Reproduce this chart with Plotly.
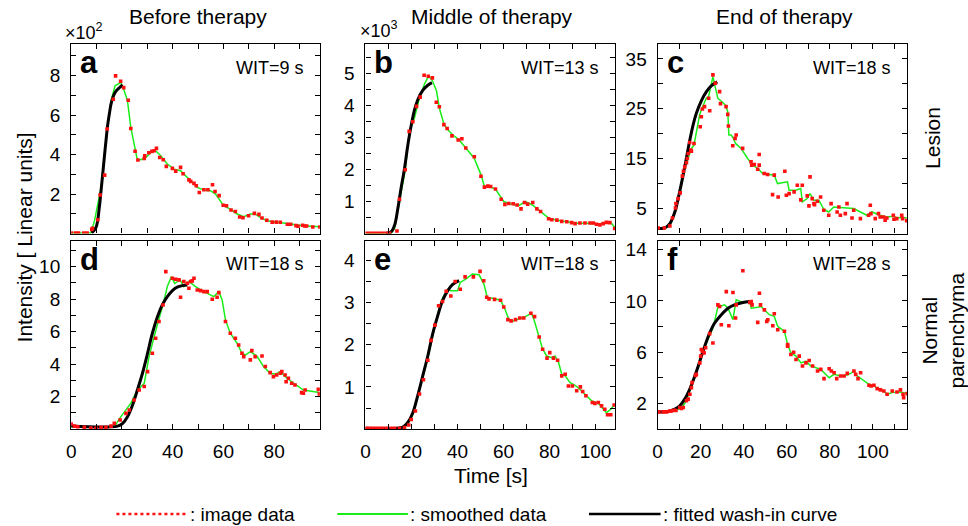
import plotly.graph_objects as go

# ---------------- data (time in s, intensity) ----------------
# a: before therapy, lesion (x10^2)
a_t = [0,1.7,2.9,5.0,6.3,8.1,8.4,10.5,11.4,13.2,14.2,16.6,17.5,19.5,20.7,22.5,23.5,25.2,26.3,28.8,29.0,30.6,31.8,32.7,33.6,34.9,36.3,37.5,39.9,41.2,43.1,44.1,46.4,47.1,48.4,49.3,50.5,52.3,53.9,55.7,56.7,58.3,59.9,61.2,63.0,64.7,66.4,67.7,69.9,72.2,74.0,75.2,77.1,79.2,80.8,82.4,85.2,86.5,88.6,89.4,91.2,92.0,92.8,95.2,98.0]
a_v = [0.03,0.03,0.03,0.03,0.03,0.21,0.27,0.70,1.95,2.96,5.29,6.80,7.98,7.71,7.39,6.75,5.32,4.17,3.72,3.80,3.94,4.09,4.16,4.19,4.31,3.85,3.74,3.40,3.30,3.16,3.35,3.03,2.72,2.64,2.54,2.42,2.08,2.22,2.22,2.47,2.13,1.92,1.43,1.41,1.19,1.12,0.84,0.80,0.90,1.02,0.97,0.79,0.67,0.58,0.58,0.57,0.47,0.47,0.40,0.37,0.42,0.38,0.38,0.33,0.33]
a_st = [0,7.8,9.2,11.8,13.7,15.7,17.3,19.6,20.9,22.2,23.5,25.1,26.1,28.8,31.4,33.3,35.3,37.9,40.5,43.1,45.1,47.1,49.7,52.3,54.9,56.9,58.8,60.1,62.7,65.4,68.0,70.6,72.5,74.5,77.1,79.7,83.7,87.6,91.5,98.0]
a_sv = [0.03,0.03,0.65,2.34,4.70,6.72,7.48,7.65,7.23,6.72,5.37,4.36,3.72,3.77,4.11,4.19,3.94,3.52,3.26,3.18,2.93,2.67,2.34,2.20,2.17,2.00,1.66,1.41,1.24,0.99,0.85,0.99,0.99,0.82,0.65,0.60,0.53,0.45,0.40,0.35]
a_ft = [8.1,9.8,11.1,11.8,12.5,13.1,13.8,14.4,15.1,15.7,16.6,17.6,19.0,20.3]
a_fv = [0.03,0.31,1.33,2.2,3.1,3.9,4.8,5.5,6.1,6.55,6.95,7.2,7.38,7.52]

# b: middle of therapy, lesion (x10^3)
b_t = [0.4,1.9,3.3,4.7,6.2,7.6,9.1,10.5,13.7,14.8,17.3,19.0,20.6,22.2,23.8,25.5,27.3,29.1,30.8,32.1,34.1,35.5,37.6,40.3,41.9,43.6,47.3,50.2,51.7,53.2,54.4,56.5,59.0,60.6,62.3,64.2,65.9,67.6,69.1,70.5,72.7,74.5,76.1,79.6,81.0,83.2,85.3,87.5,89.6,91.1,93.2,95.4,97.6,99.0,100.4,101.9,103.3,104.7,106.2,108.3]
b_v = [0.01,0.01,0.01,0.01,0.01,0.01,0.01,0.01,0.08,1.07,1.99,3.19,3.49,3.97,4.26,4.94,4.91,4.86,4.10,3.96,3.40,3.28,3.05,2.92,2.96,2.67,2.40,1.79,1.45,1.48,1.47,1.39,1.07,0.91,0.94,0.93,0.89,0.77,0.97,0.92,0.97,0.77,0.69,0.46,0.43,0.42,0.38,0.37,0.34,0.31,0.33,0.33,0.33,0.33,0.29,0.27,0.31,0.35,0.34,0.16]
b_st = [0,11.2,12.7,14.8,17.3,19.1,21.3,23.5,25.6,27.5,29.2,30.9,32.1,34.2,36.4,38.6,40.7,43.6,47.2,50.2,51.7,53.7,56.5,60.1,62.3,66.6,69.5,72.4,75.3,79.6,82.4,86.8,91.1,96.8,101.2,104.0,106.9,108.3]
b_sv = [0.01,0.01,0.16,1.05,1.99,3.19,3.61,4.24,4.66,4.92,4.76,4.45,3.92,3.40,3.19,3.04,2.93,2.67,2.36,1.84,1.47,1.47,1.39,1.00,0.94,0.87,1.00,0.90,0.74,0.48,0.43,0.37,0.32,0.32,0.29,0.34,0.32,0.19]
b_ft = [9.1,11.2,12.7,14.1,15.5,17.0,18.4,19.9,21.3,22.7,24.9,27.1,28.9]
b_fv = [0.01,0.06,0.27,0.79,1.42,2.04,2.75,3.38,3.85,4.17,4.47,4.63,4.71]

# c: end of therapy, lesion
c_t = [0.3,3.1,5.7,6.9,8.3,8.5,9.5,10.5,11.5,12.0,12.6,13.4,13.8,14.2,14.9,15.4,15.7,16.9,19.8,20.3,20.8,21.8,23.7,24.2,25.7,26.8,28.8,29.2,31.8,32.6,32.9,34.9,36.0,36.5,39.5,43.4,43.7,44.9,46.5,47.2,47.2,49.5,51.1,53.4,54.2,56.0,59.1,59.8,61.1,63.4,64.9,66.5,67.2,69.5,70.3,70.8,71.8,72.6,72.9,74.2,75.7,77.2,79.5,80.6,83.4,84.2,84.9,87.2,88.0,90.3,91.1,94.2,98.0,98.8,99.1,101.1,102.6,103.4,104.9,105.7,106.5,109.5,109.8,111.1,113.4,113.8,115.7]
c_v = [1.12,1.12,1.52,3.12,5.13,6.0,7.0,8.15,11.5,12.5,13.37,14.18,15.05,16.05,18.26,16.72,16.52,18.06,21.41,23.42,24.96,25.43,27.10,24.62,31.79,30.11,28.44,26.03,25.43,23.89,21.54,17.59,19.07,19.74,17.06,14.38,13.71,13.84,12.90,15.85,13.71,12.03,11.83,7.81,11.70,7.34,12.50,7.68,8.01,8.35,9.69,6.74,9.69,7.55,5.54,11.36,7.01,6.0,5.80,6.47,7.34,4.67,3.66,6.0,4.33,5.33,3.66,4.0,6.0,3.12,4.67,2.99,3.66,5.67,4.0,2.99,4.0,3.33,3.33,2.66,3.12,3.66,2.86,2.99,3.66,2.99,2.59]
c_st = [0,4.9,6.5,8.8,10.3,12.6,14.2,15.7,16.9,18.5,19.5,20.6,22.6,23.7,24.9,25.7,26.9,28.0,29.5,31.4,32.6,33.1,34.2,35.2,36.2,38.8,41.8,42.9,44.2,46.5,48.8,54.2,55.7,60.3,61.1,64.2,66.5,67.2,69.5,70.8,72.6,74.9,77.2,79.5,81.8,91.1,97.2,99.5,103.4,106.5,109.5,111.1,115.7]
c_sv = [1.12,1.32,2.32,6.34,8.35,13.04,15.05,17.06,17.73,21.74,23.75,25.09,27.10,27.44,29.78,31.46,29.11,27.10,26.57,25.76,24.42,19.74,19.74,19.07,18.06,17.06,15.05,14.38,13.71,13.04,12.03,11.70,10.02,10.36,8.68,8.68,9.02,6.34,7.01,8.01,6.67,6.67,4.87,4.33,5.33,5.0,3.66,4.33,3.66,3.33,3.46,3.19,3.19]
c_ft = [0,3.4,5.7,8.0,9.8,11.8,13.4,14.9,16.5,18.0,20.3,22.6,24.9,27.7]
c_fv = [1.0,1.15,2.0,4.3,7.5,11.6,15.2,18.6,21.8,24.1,26.6,28.4,29.6,30.4]

# d: before therapy, normal parenchyma
d_t = [0,1.3,2.6,5.2,7.8,9.8,11.8,13.7,15.7,17.0,19.3,21.6,22.9,24.8,26.8,28.8,30.1,32.0,33.3,34.6,36.2,37.3,39.9,41.2,42.5,43.1,44.4,45.8,46.4,47.1,47.7,48.4,49.7,51.0,52.3,53.6,55.6,57.5,58.2,60.8,62.7,64.7,66.0,67.3,68.0,70.6,71.2,72.5,75.2,76.5,78.4,79.7,81.0,82.4,83.0,84.3,84.7,85.6,86.9,88.2,90.8,91.5,92.2,97.4,97.8]
d_v = [0.32,0.19,0.15,0.11,0.07,0.05,0.11,0.11,0.19,0.36,0.56,0.97,1.18,1.79,2.41,2.62,3.54,4.67,5.59,6.62,7.64,9.69,9.28,9.22,9.18,8.11,9.08,8.97,8.67,9.08,9.12,9.28,8.56,8.52,8.46,8.46,7.99,8.11,8.40,6.62,5.90,5.59,5.18,4.67,4.46,4.26,4.83,4.46,4.50,3.85,3.48,3.23,3.33,3.44,3.54,3.33,2.92,3.13,2.82,2.72,2.25,2.21,2.41,2.45,2.16]
d_st = [0,17.0,19.6,21.6,23.5,25.5,26.8,28.8,30.7,32.7,34.6,36.3,37.9,39.5,40.8,42.9,44.4,46.4,49.0,52.3,56.2,58.2,59.5,60.8,62.7,65.4,67.3,68.6,70.6,73.2,75.8,78.4,80.4,82.4,85.0,87.6,91.5,97.8]
d_sv = [0.15,0.15,0.77,1.18,1.59,2.21,2.51,2.82,4.46,5.69,6.72,7.74,8.77,9.38,8.97,9.18,8.77,9.08,8.77,8.46,8.15,8.46,7.95,6.72,5.90,5.28,4.67,4.56,4.77,4.50,3.85,3.44,3.39,3.54,3.13,2.82,2.41,2.25]
d_ft = [0,18.3,20.3,22.2,24.2,26.1,28.1,30.1,32.0,34.0,35.9,37.9,39.9,41.8,43.8,45.8]
d_fv = [0.19,0.19,0.36,0.77,1.49,2.41,3.44,4.67,5.90,6.92,7.64,8.15,8.52,8.73,8.83,8.87]

# e: middle of therapy, normal parenchyma
e_t = [0.4,1.9,3.3,4.7,6.2,7.6,9.1,11.2,12.7,14.8,17.0,18.8,19.9,21.7,23.5,25.2,27.1,28.5,30.2,31.8,33.5,35.1,37.1,39.0,41.2,43.3,46.9,49.8,51.4,52.7,53.7,56.1,58.7,60.1,61.9,63.3,65.2,67.1,68.8,71.9,73.5,75.5,77.0,78.9,80.1,81.7,83.5,85.3,86.8,88.2,89.9,91.8,93.4,94.4,95.8,98.6,99.7,101.2,102.6,104.0,105.2,106.6,108.1]
e_v = [0.02,0.02,0.02,0.02,0.02,0.02,0.02,0.02,0.02,0.02,0.04,0.10,0.23,0.43,0.83,1.17,1.63,2.10,2.46,2.92,3.02,3.26,3.15,3.49,3.31,3.60,3.60,3.73,3.51,3.12,3.08,3.07,3.05,2.89,2.59,2.56,2.59,2.63,2.63,2.74,2.66,2.18,1.89,1.68,1.81,1.68,1.63,1.26,1.30,1.02,1.02,0.91,1.0,0.89,0.79,0.63,0.61,0.63,0.55,0.47,0.34,0.34,0.57]
e_st = [0,14.8,17.0,18.8,20.6,22.7,24.9,27.1,29.2,31.4,33.5,35.7,37.1,38.6,40.0,41.2,43.6,46.5,49.4,51.5,52.9,56.5,58.7,60.6,62.3,63.7,66.6,69.5,72.1,73.2,75.3,77.0,78.8,81.0,82.4,83.9,85.3,86.8,88.9,90.4,92.5,95.4,98.3,101.2,104.7,106.6,108.1]
e_sv = [0.02,0.02,0.05,0.16,0.35,0.75,1.22,1.69,2.21,2.72,3.10,3.31,3.27,3.27,3.27,3.47,3.55,3.67,3.65,3.43,3.12,3.08,3.05,2.84,2.60,2.55,2.60,2.66,2.74,2.60,2.21,1.89,1.73,1.69,1.73,1.58,1.30,1.26,1.10,1.06,0.98,0.83,0.67,0.61,0.39,0.47,0.57]
e_ft = [0,13.4,16.3,18.4,20.6,22.7,24.9,27.1,29.2,31.4,33.5,35.7,37.8,40.7]
e_fv = [0.02,0.02,0.05,0.16,0.39,0.79,1.26,1.73,2.25,2.68,3.04,3.27,3.42,3.51]

# f: end of therapy, normal parenchyma
f_t = [0.6,2.6,4.2,5.7,6.5,7.7,8.5,10.3,11.1,11.9,13.4,14.2,15.0,15.7,16.0,17.6,18.0,19.6,20.0,20.3,20.8,21.6,22.3,24.2,25.7,28.0,28.8,29.6,31.9,33.1,35.0,36.2,36.5,39.6,42.8,43.5,43.9,46.5,47.3,47.8,49.6,50.7,51.2,53.5,54.2,55.8,58.9,60.4,60.4,61.9,63.2,64.3,65.8,67.3,68.9,70.4,72.0,74.3,75.8,77.3,79.7,80.7,82.0,83.2,85.0,86.6,88.1,91.2,92.0,93.1,94.3,98.2,99.2,100.5,102.0,103.5,105.1,106.6,109.0,111.2,112.8,114.0,114.3,115.9]
f_v = [1.35,1.35,1.35,1.41,1.43,1.48,1.46,1.69,1.61,1.69,2.21,2.34,2.72,3.24,3.63,4.19,4.27,5.17,5.69,6.21,6.08,5.95,6.34,7.45,6.72,9.69,9.56,8.14,10.72,8.06,10.65,8.66,9.69,12.35,9.87,9.95,9.69,8.32,10.59,9.69,9.30,8.40,8.53,8.06,8.99,7.75,7.63,6.59,6.46,5.82,6.0,5.43,5.69,4.92,5.17,5.35,4.92,4.53,4.66,3.94,4.71,4.53,4.40,3.94,4.14,4.14,4.35,4.53,4.27,3.94,4.40,3.42,3.37,3.42,3.16,3.06,2.98,2.72,2.98,2.90,3.06,2.72,2.46,2.77]
f_st = [0,8.0,11.1,13.4,15.7,18.0,20.3,22.6,25.7,28.0,31.1,32.7,35.0,36.5,38.1,39.6,42.7,43.5,46.5,48.1,50.4,51.9,54.2,55.8,58.9,60.4,61.9,64.3,66.6,68.9,71.2,73.5,75.8,79.7,82.0,85.1,87.4,89.7,91.2,92.8,95.8,98.2,100.5,102.8,105.1,106.6,109.0,112.0,114.3,115.9]
f_sv = [1.35,1.41,1.66,2.21,3.37,4.40,5.82,6.72,7.88,9.51,9.69,9.43,8.53,10.08,9.95,9.87,9.95,9.43,9.51,9.56,9.17,8.92,8.79,8.01,7.63,6.59,5.95,5.69,5.17,5.30,4.92,4.79,4.66,4.01,4.27,4.14,4.19,4.35,4.53,4.14,3.75,3.50,3.37,3.11,2.98,2.72,2.85,2.90,2.85,2.77]
f_ft = [0,4.9,8.0,10.3,12.6,14.9,17.3,19.6,21.9,24.2,26.5,29.6,32.7,35.7,39.6,42.7]
f_fv = [1.35,1.38,1.56,1.82,2.34,3.11,4.14,5.30,6.46,7.50,8.27,8.92,9.43,9.69,9.87,9.95]

panel_letters = ["a", "b", "c", "d", "e", "f"]
wit_labels = ["WIT=9 s", "WIT=13 s", "WIT=18 s", "WIT=18 s", "WIT=18 s", "WIT=28 s"]
col_titles = ["Before therapy", "Middle of therapy", "End of therapy"]
row_titles = ["Lesion", "Normal<br>parenchyma"]
legend_labels = [": image data", ": smoothed data", ": fitted wash-in curve"]

x_ranges = [[0, 98], [0, 108.5], [0, 116]]
y_ranges = [[0, 9.6], [0, 5.92], [0, 38], [0, 11.6], [0, 4.46], [0, 14.7]]
y_ticks = [[2, 4, 6, 8], [1, 2, 3, 4, 5], [5, 15, 25, 35], [2, 4, 6, 8, 10], [1, 2, 3, 4], [2, 6, 10, 14]]
y_minor = [1, 0.5, 5, 1, 0.5, 2]
x_ticks = [0, 20, 40, 60, 80, 100]

panels = [(a_t, a_v, a_st, a_sv, a_ft, a_fv), (b_t, b_v, b_st, b_sv, b_ft, b_fv),
          (c_t, c_v, c_st, c_sv, c_ft, c_fv), (d_t, d_v, d_st, d_sv, d_ft, d_fv),
          (e_t, e_v, e_st, e_sv, e_ft, e_fv), (f_t, f_v, f_st, f_sv, f_ft, f_fv)]

# ---------------- layout geometry (pixels) ----------------
W, H = 968, 526
col_px = [(66.5, 316.5), (362.3, 613.3), (656, 907)]
row_px = [(43, 233), (240, 429)]
FONT = "Liberation Sans, Arial, sans-serif"
GREEN = "#19ee19"
TICK_SIZE = 19

fig = go.Figure()
layout = dict(width=W, height=H, margin=dict(l=0, r=0, t=0, b=0), autosize=False,
              plot_bgcolor="white", paper_bgcolor="white", showlegend=False,
              font=dict(family=FONT, size=TICK_SIZE, color="black"))
annotations = []
shapes = []

def px2x(p):
    return p / W

def px2y(p):
    return 1 - p / H

for i, (t, v, st, sv, ft, fv) in enumerate(panels):
    r, c = divmod(i, 3)
    n = i + 1
    xa = "x" if n == 1 else f"x{n}"
    ya = "y" if n == 1 else f"y{n}"
    fig.add_trace(go.Scatter(x=st, y=sv, mode="lines", line=dict(color=GREEN, width=1.5),
                             xaxis=xa, yaxis=ya, hoverinfo="skip"))
    fig.add_trace(go.Scatter(x=ft, y=fv, mode="lines", line=dict(color="black", width=3, shape="spline"),
                             xaxis=xa, yaxis=ya, hoverinfo="skip"))
    fig.add_trace(go.Scatter(x=t, y=v, mode="markers", marker=dict(color="#ff1010", size=3.6, symbol="square"),
                             xaxis=xa, yaxis=ya, hoverinfo="skip"))
    common = dict(showline=True, linecolor="black", linewidth=1.2, mirror="allticks",
                  ticks="inside", ticklen=5, tickwidth=1, tickcolor="black",
                  showgrid=False, zeroline=False, tickfont=dict(size=TICK_SIZE, family=FONT))
    xkey = "xaxis" if n == 1 else f"xaxis{n}"
    ykey = "yaxis" if n == 1 else f"yaxis{n}"
    layout[xkey] = dict(common, domain=[px2x(col_px[c][0]), px2x(col_px[c][1])],
                        range=x_ranges[c], anchor=ya, tickmode="array", tickvals=x_ticks,
                        showticklabels=(r == 1), ticklabelstandoff=5,
                        minor=dict(ticks="inside", ticklen=5, tickcolor="black", tickmode="linear",
                                   tick0=0, dtick=10, showgrid=False))
    layout[ykey] = dict(common, domain=[px2y(row_px[r][1]), px2y(row_px[r][0])],
                        range=y_ranges[i], anchor=xa, tickmode="array", tickvals=y_ticks[i],
                        ticklabelstandoff=6,
                        minor=dict(ticks="inside", ticklen=5, tickcolor="black", tickmode="linear",
                                   tick0=0, dtick=y_minor[i], showgrid=False))
    # panel letter and WIT label
    annotations.append(dict(text=f"<b>{panel_letters[i]}</b>", xref="paper", yref="paper",
                            x=px2x(col_px[c][0] + 7), y=px2y(row_px[r][0] + 19),
                            xanchor="left", yanchor="middle", showarrow=False,
                            font=dict(size=31, family=FONT)))
    annotations.append(dict(text=wit_labels[i], xref="paper", yref="paper",
                            x=px2x(col_px[c][1] - 14), y=px2y(row_px[r][0] + 24),
                            xanchor="right", yanchor="middle", showarrow=False,
                            font=dict(size=18, family=FONT)))

# column titles
for c, title in enumerate(col_titles):
    annotations.append(dict(text=title, xref="paper", yref="paper",
                            x=px2x((col_px[c][0] + col_px[c][1]) / 2 + 2), y=px2y(16),
                            xanchor="center", yanchor="middle", showarrow=False,
                            font=dict(size=21, family=FONT)))
# multipliers
annotations.append(dict(text="×10<sup>2</sup>", xref="paper", yref="paper", x=px2x(58), y=px2y(31),
                        xanchor="left", yanchor="middle", showarrow=False, font=dict(size=18, family=FONT)))
annotations.append(dict(text="×10<sup>3</sup>", xref="paper", yref="paper", x=px2x(355), y=px2y(29),
                        xanchor="left", yanchor="middle", showarrow=False, font=dict(size=18, family=FONT)))
# row titles
annotations.append(dict(text=row_titles[0], xref="paper", yref="paper", x=px2x(933), y=px2y(137),
                        xanchor="center", yanchor="middle", showarrow=False, textangle=-90,
                        font=dict(size=21, family=FONT)))
annotations.append(dict(text=row_titles[1], xref="paper", yref="paper", x=px2x(943), y=px2y(330),
                        xanchor="center", yanchor="middle", showarrow=False, textangle=-90,
                        font=dict(size=21, family=FONT)))
# axis titles
annotations.append(dict(text="Intensity [ Linear units]", xref="paper", yref="paper", x=px2x(20), y=px2y(237),
                        xanchor="center", yanchor="middle", showarrow=False, textangle=-90,
                        font=dict(size=21, family=FONT)))
annotations.append(dict(text="Time [s]", xref="paper", yref="paper", x=px2x(489), y=px2y(475),
                        xanchor="center", yanchor="middle", showarrow=False,
                        font=dict(size=21, family=FONT)))

# legend (key samples + labels)
leg_y = px2y(514)
leg_keys = [(112, 184, "#ff1010", 2.5, "dot"), (334, 405, GREEN, 2, "solid"), (587, 659, "black", 2.5, "solid")]
for (x0, x1, col, wdt, dash), lab in zip(leg_keys, legend_labels):
    shapes.append(dict(type="line", xref="paper", yref="paper", x0=px2x(x0), x1=px2x(x1), y0=leg_y, y1=leg_y,
                       line=dict(color=col, width=wdt, dash=dash)))
    annotations.append(dict(text=lab, xref="paper", yref="paper", x=px2x(x1), y=leg_y,
                            xanchor="left", yanchor="middle", showarrow=False,
                            font=dict(size=19, family=FONT)))

layout["annotations"] = annotations
layout["shapes"] = shapes
fig.update_layout(**layout)
fig.write_html("out.html", config={"displayModeBar": False},
               post_script="document.body.style.margin='0';document.body.style.overflow='hidden';")
